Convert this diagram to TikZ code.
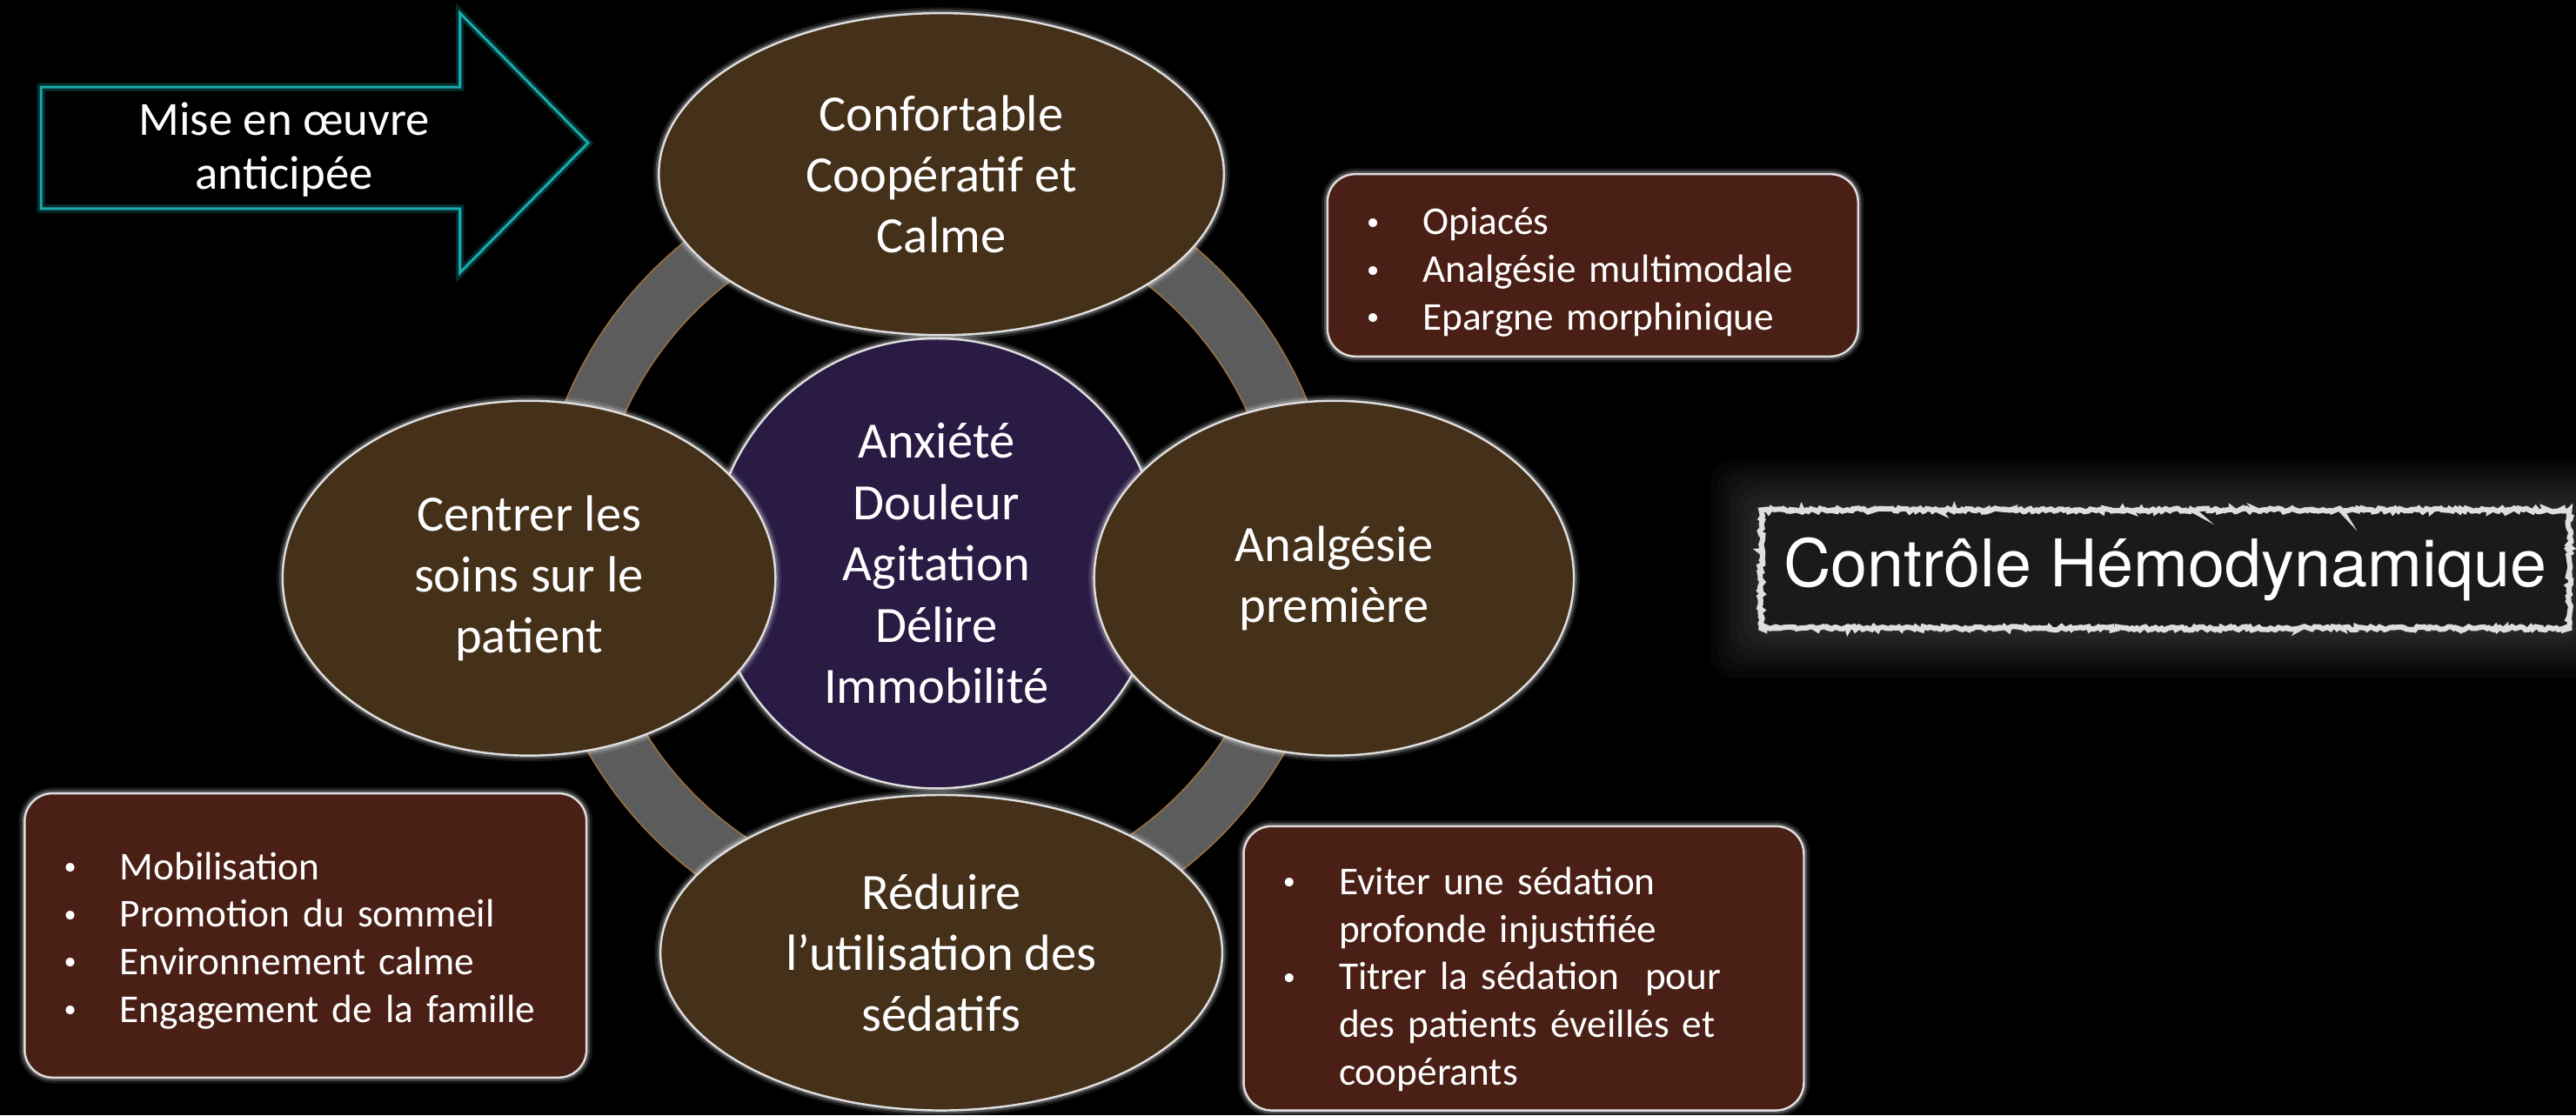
\documentclass[tikz,border=0pt]{standalone}
\usepackage{fontspec}
\setmainfont{Carlito}
\newfontfamily\headfont{TeX Gyre Heros}
\usetikzlibrary{shapes.geometric,decorations.pathmorphing}

\definecolor{petalbrown}{RGB}{69,48,26}
\definecolor{hubpurple}{RGB}{42,27,68}
\definecolor{notebrown}{RGB}{74,32,22}
\definecolor{ringgray}{RGB}{92,92,92}
\definecolor{ringedge}{RGB}{150,110,65}
\definecolor{edgegray}{RGB}{222,222,222}
\definecolor{arrowcyan}{RGB}{24,170,172}
\definecolor{panelgray}{RGB}{26,26,26}

\tikzset{
  glow/.style={
    preaction={draw=#1, line width=7pt, opacity=0.10},
    preaction={draw=#1, line width=4pt, opacity=0.22}},
  petal/.style={ellipse, fill=petalbrown, draw=edgegray, line width=1.3pt,
    glow=white, inner sep=0pt, text=white, align=center,
    font=\fontsize{31}{37}\selectfont},
  hubstyle/.style={circle, fill=hubpurple, draw=edgegray, line width=1.3pt,
    glow=white, inner sep=0pt, minimum size=274pt, text=white, align=center,
    font=\fontsize{31}{37.3}\selectfont},
  note/.style={rectangle, rounded corners=17pt, fill=notebrown, draw=edgegray,
    line width=1.3pt, glow=white, text=white, align=left, inner xsep=22pt,
    inner ysep=0pt, font=\fontsize{24}{29}\selectfont},
}
% small bullet followed by a fixed indent
\newcommand{\itm}{\makebox[36pt][l]{\hspace*{2pt}\raisebox{3pt}{\fontsize{15}{15}\selectfont•}}}
\newcommand{\cnt}{\hspace*{36pt}}
% extra head room on a first line, to lower the list inside its box
\newcommand{\headroom}[1]{\rule{0pt}{#1}}

\begin{document}
\begin{tikzpicture}[x=1pt,y=-1pt]
\fill[black] (0,0) rectangle (1568,679);
\useasboundingbox (0,0) rectangle (1568,679);

% grey cycle ring behind the shapes
\coordinate (ringc) at (570,337);
\fill[ringgray, even odd rule] (ringc) circle[radius=244pt] (ringc) circle[radius=208pt];
\draw[ringedge, line width=0.9pt] (ringc) circle[radius=244pt];
\draw[ringedge, line width=0.9pt] (ringc) circle[radius=208pt];

% central circle
\node[hubstyle] (hub) at (570,343)
  {Anxiété\\Douleur\\Agitation\\Délire\\Immobilité};

% four petals
\node[petal, minimum width=344pt, minimum height=196pt] (calm) at (573,106)
  {Confortable\\Coopératif et\\Calme};
\node[petal, minimum width=300pt, minimum height=216pt] (care) at (322,352)
  {Centrer les\\soins sur le\\patient};
\node[petal, minimum width=292pt, minimum height=216pt] (analg) at (812,352)
  {Analgésie\\première};
\node[petal, minimum width=342pt, minimum height=192pt] (sedat) at (573,580)
  {Réduire\\l’utilisation des\\sédatifs};

% anticipation arrow
\draw[arrowcyan, line width=1.6pt, line join=miter,
      preaction={draw=arrowcyan, line width=5pt, opacity=0.25}]
  (25,53) -- (280,53) -- (280,8) -- (358,87) -- (280,166) -- (280,127)
  -- (25,127) -- cycle;
\node[text=white, align=center, font=\fontsize{29}{33}\selectfont] (antic)
  at (173,91) {Mise en œuvre\\anticipée};

% bullet notes
\node[note, minimum width=323pt, minimum height=111pt, text width=279pt]
  (opio) at (969.5,161.5)
  {\headroom{25pt}\itm Opiacés\\\itm Analgésie multimodale\\\itm Epargne morphinique};
\node[note, minimum width=342pt, minimum height=173pt, text width=298pt]
  (mobil) at (186,569.5)
  {\headroom{23pt}\itm Mobilisation\\\itm Promotion du sommeil\\\itm Environnement calme\\\itm Engagement de la famille};
\node[note, minimum width=341pt, minimum height=173pt, text width=297pt]
  (titr) at (927.5,589.5)
  {\headroom{30pt}\itm Eviter une sédation\\\cnt profonde injustifiée\\\itm Titrer la sédation\ \ pour\\\cnt des patients éveillés et\\\cnt coopérants};

% haemodynamic control panel with a soft grey halo
\foreach \g in {30,26,...,2}
  \fill[white, opacity=0.022, rounded corners=14pt]
    (1071-\g,310-\g) rectangle (1565+\g,383+\g);
\node[rectangle, fill=panelgray, minimum width=492pt, minimum height=72pt,
      draw=edgegray, line width=3.2pt,
      decorate, decoration={random steps, segment length=1.6pt, amplitude=1.1pt},
      text=white, font=\headfont\fontsize{40}{44}\selectfont] (hemo) at (1318,346.5)
  {Contrôle Hémodynamique};
\end{tikzpicture}
\end{document}
